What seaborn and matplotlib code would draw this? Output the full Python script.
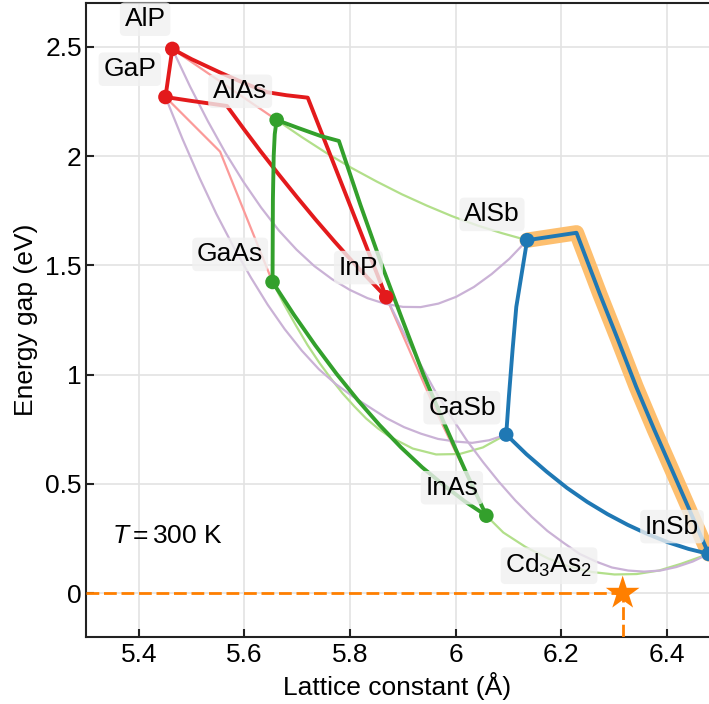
import matplotlib
matplotlib.use("Agg")
import matplotlib.pyplot as plt
import seaborn as sns
import pandas as pd

# ---- compounds -------------------------------------------------------------
names = ["AlP", "GaP", "AlAs", "GaAs", "InP", "AlSb", "GaSb", "InAs", "InSb"]
lattice = [5.4635, 5.4505, 5.6611, 5.6533, 5.8687, 6.1355, 6.0959, 6.0583, 6.4794]
gap = [2.49, 2.27, 2.165, 1.424, 1.354, 1.615, 0.726, 0.355, 0.18]
anion = ["P", "P", "As", "As", "P", "Sb", "Sb", "As", "Sb"]

label_x = [5.412, 5.383, 5.592, 5.573, 5.816, 6.069, 6.012, 5.993, 6.410]
label_y = [2.626, 2.397, 2.296, 1.550, 1.490, 1.733, 0.849, 0.483, 0.305]

star_name = "Cd$_3$As$_2$"
star_a = 6.3165
star_eg = 0.0
star_label_xy = (6.177, 0.126)

# ---- ternary alloy curves (a, Eg) -------------------------------------------
alp_gap = [(5.4635, 2.49), (5.4505, 2.27)]
gap_inp = [(5.4505, 2.27), (5.50, 2.252), (5.535, 2.24), (5.567, 2.229), (5.60, 2.12),
           (5.63, 2.024), (5.665, 1.916), (5.70, 1.811), (5.735, 1.709), (5.77, 1.611),
           (5.80, 1.53), (5.835, 1.439), (5.8687, 1.354)]
alp_inp = [(5.4635, 2.49), (5.50, 2.443), (5.554, 2.382), (5.60, 2.333), (5.643, 2.292),
           (5.68, 2.278), (5.72, 2.267), (5.8687, 1.354)]

alp_alas = [(5.4635, 2.49), (5.6611, 2.165)]
gap_gaas = [(5.4505, 2.27), (5.554, 2.02), (5.6533, 1.424)]
inp_inas = [(5.8687, 1.354), (5.9635, 0.83), (6.0583, 0.355)]

alas_gaas = [(5.6611, 2.165), (5.6575, 2.10), (5.6555, 2.0), (5.654, 1.8), (5.6533, 1.424)]
gaas_inas = [(5.6533, 1.424), (5.6938, 1.274), (5.7343, 1.134), (5.7748, 1.003),
             (5.8153, 0.882), (5.8558, 0.77), (5.8963, 0.668), (5.9368, 0.576),
             (5.9773, 0.495), (6.0178, 0.42), (6.0583, 0.355)]
alas_inas = [(5.6611, 2.165), (5.70, 2.13), (5.744, 2.092), (5.779, 2.069), (5.82, 1.775),
             (5.8597, 1.505), (5.8994, 1.25), (5.9391, 1.0), (5.9789, 0.775),
             (6.0186, 0.56), (6.0583, 0.355)]

alas_alsb = [(5.6611, 2.165), (5.7085, 2.087), (5.756, 2.013), (5.8034, 1.945),
             (5.8509, 1.883), (5.8983, 1.825), (5.9457, 1.773), (5.9932, 1.725),
             (6.0406, 1.683), (6.0881, 1.647), (6.1355, 1.615)]
gaas_gasb = [(5.6533, 1.424), (5.6755, 1.32), (5.6976, 1.225), (5.7197, 1.135),
             (5.7418, 1.055), (5.764, 0.982), (5.7861, 0.914), (5.8082, 0.855),
             (5.8303, 0.80), (5.8525, 0.755), (5.8746, 0.717), (5.9189, 0.662),
             (5.9631, 0.635), (6.0074, 0.637), (6.0516, 0.667), (6.0959, 0.726)]
inas_insb = [(6.0583, 0.355), (6.0904, 0.278), (6.1325, 0.212), (6.1746, 0.16),
             (6.2167, 0.121), (6.2589, 0.097), (6.301, 0.086), (6.3431, 0.088),
             (6.3852, 0.104), (6.4273, 0.135), (6.4794, 0.18)]

alp_alsb = [(5.4635, 2.49), (5.4971, 2.318), (5.5307, 2.16), (5.5643, 2.014), (5.5979, 1.883),
            (5.6315, 1.765), (5.6651, 1.66), (5.6987, 1.572), (5.7323, 1.497),
            (5.7659, 1.437), (5.7995, 1.388), (5.8331, 1.35), (5.8667, 1.324),
            (5.9003, 1.31), (5.9339, 1.309), (5.9675, 1.325), (6.0011, 1.356),
            (6.0347, 1.401), (6.0683, 1.46), (6.1019, 1.53), (6.1355, 1.615)]
gap_gasb = [(5.4505, 2.27), (5.4828, 2.078), (5.515, 1.90), (5.547, 1.735), (5.5796, 1.584),
            (5.6119, 1.446), (5.6441, 1.32), (5.6764, 1.208), (5.7087, 1.11),
            (5.741, 1.025), (5.7732, 0.957), (5.8055, 0.90), (5.8377, 0.85),
            (5.870, 0.80), (5.9023, 0.76), (5.9345, 0.73), (5.9668, 0.706),
            (6.0, 0.694), (6.0314, 0.688), (6.0636, 0.70), (6.0959, 0.726)]
inp_insb = [(5.8687, 1.354), (5.899, 1.205), (5.930, 1.062), (5.960, 0.93), (5.991, 0.81),
            (6.021, 0.70), (6.052, 0.60), (6.082, 0.51), (6.113, 0.425), (6.144, 0.35),
            (6.174, 0.285), (6.205, 0.23), (6.235, 0.18), (6.266, 0.145), (6.296, 0.118),
            (6.327, 0.104), (6.357, 0.099), (6.388, 0.104), (6.418, 0.12), (6.449, 0.145),
            (6.4794, 0.18)]

alsb_gasb = [(6.1355, 1.615), (6.115, 1.31), (6.108, 1.115), (6.101, 0.90), (6.0959, 0.726)]
gasb_insb = [(6.0959, 0.726), (6.1343, 0.636), (6.1726, 0.556), (6.211, 0.482),
             (6.2493, 0.418), (6.2877, 0.362), (6.326, 0.313), (6.3644, 0.27),
             (6.4027, 0.233), (6.4411, 0.203), (6.4794, 0.18)]
alsb_insb = [(6.1355, 1.615), (6.229, 1.649), (6.273, 1.37), (6.3075, 1.16), (6.342, 0.945),
             (6.376, 0.75), (6.4106, 0.56), (6.445, 0.37), (6.4794, 0.18)]

xticks = [5.4, 5.6, 5.8, 6.0, 6.2, 6.4]
xticklabels = ["5.4", "5.6", "5.8", "6", "6.2", "6.4"]
yticks = [0, 0.5, 1.0, 1.5, 2.0, 2.5]
yticklabels = ["0", "0.5", "1", "1.5", "2", "2.5"]

# ---- styling ---------------------------------------------------------------
pal = sns.color_palette("Paired")
c_blue = pal[1]
c_green, c_lgreen = pal[3], pal[2]
c_red, c_pink = pal[5], pal[4]
c_orange, c_lorange = pal[7], pal[6]
c_purple = pal[8]
anion_colors = {"P": c_red, "As": c_green, "Sb": c_blue}

sns.set_theme(style="ticks")
plt.rcParams["font.family"] = ["Liberation Sans", "DejaVu Sans"]
plt.rcParams["mathtext.fontset"] = "custom"
plt.rcParams["mathtext.rm"] = "Liberation Sans"
plt.rcParams["mathtext.it"] = "Liberation Sans:italic"
for k in ("text.color", "axes.labelcolor", "xtick.labelcolor", "ytick.labelcolor"):
    plt.rcParams[k] = "black"

fig = plt.figure(figsize=(7.09, 7.04), dpi=100)
ax = fig.add_axes([86 / 709, 67 / 704, 623 / 709, 634 / 704])
ax.set_xlim(5.3, 6.48)
ax.set_ylim(-0.2, 2.7)
ax.grid(True, color="#e3e3e3", lw=1.2, zorder=0)
ax.set_axisbelow(True)


def draw(curve, color, lw, z):
    df = pd.DataFrame(curve, columns=["a", "eg"])
    sns.lineplot(data=df, x="a", y="eg", sort=False, estimator=None, color=color,
                 lw=lw, ax=ax, zorder=z, solid_capstyle="round", solid_joinstyle="round")


# highlight
draw(alsb_insb, c_lorange, 11, 1)
# thin lines
for cv in (alp_alas, gap_gaas, inp_inas):
    draw(cv, c_pink, 1.6, 2)
for cv in (alas_alsb, gaas_gasb, inas_insb):
    draw(cv, c_lgreen, 1.6, 2)
for cv in (alp_alsb, gap_gasb, inp_insb):
    draw(cv, c_purple, 1.6, 2)
# thick lines
for cv in (alp_gap, gap_inp, alp_inp):
    draw(cv, c_red, 2.8, 3)
for cv in (alas_gaas, gaas_inas, alas_inas):
    draw(cv, c_green, 2.8, 3)
for cv in (alsb_gasb, gasb_insb, alsb_insb):
    draw(cv, c_blue, 2.8, 3)

# dashed guide lines to the Cd3As2 star
dash = (0, (4.6, 1.7))
ax.hlines(star_eg, ax.get_xlim()[0], star_a, colors=c_orange, linestyles=dash, lw=2, zorder=3)
ax.vlines(star_a, ax.get_ylim()[0], star_eg, colors=c_orange, linestyles=dash, lw=2, zorder=3)

# compound markers
pts = pd.DataFrame({"a": lattice, "eg": gap, "anion": anion})
sns.scatterplot(data=pts, x="a", y="eg", hue="anion", palette=anion_colors, s=110,
                edgecolor="none", legend=False, ax=ax, zorder=6)
sns.scatterplot(x=[star_a], y=[star_eg], marker="*", s=650, color=c_orange,
                edgecolor="none", ax=ax, zorder=6)

box = dict(boxstyle="round,pad=0.18", fc="#f0f0f0", ec="none", alpha=0.8)
for n, lx, ly in zip(names, label_x, label_y):
    ax.text(lx, ly, n, ha="center", va="center", fontsize=19, bbox=box, zorder=5)
ax.text(star_label_xy[0], star_label_xy[1], star_name, ha="center", va="center",
        fontsize=19, bbox=box, zorder=5)
ax.text(5.35, 0.263, r"$T = 300$ K", ha="left", va="center", fontsize=19, zorder=5)

ax.set_xticks(xticks)
ax.set_xticklabels(xticklabels)
ax.set_yticks(yticks)
ax.set_yticklabels(yticklabels)
ax.tick_params(direction="in", length=6, width=1.5, color="#222222", labelsize=19,
               labelcolor="black", top=False, right=False)
ax.tick_params(axis="x", pad=4)
ax.tick_params(axis="y", pad=3)
for s in ("left", "bottom", "top"):
    ax.spines[s].set_linewidth(1.5)
    ax.spines[s].set_color("#222222")
ax.spines["right"].set_visible(False)
ax.set_xlabel("Lattice constant (Å)", fontsize=19, labelpad=4)
ax.set_ylabel("Energy gap (eV)", fontsize=19, labelpad=5)

fig.savefig("out.png", dpi=100)
